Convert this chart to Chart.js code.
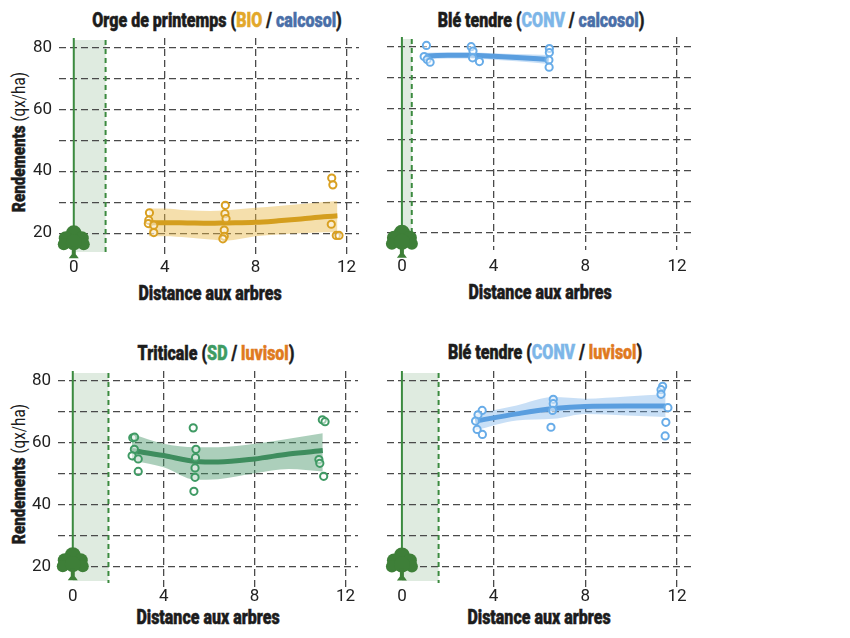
<!DOCTYPE html>
<html>
<head>
  <title>Rendements et distance aux arbres</title>
  <script src="https://cdn.jsdelivr.net/npm/chart.js"></script>
  <style>
    body { margin: 0; background: #fff; }
    #page { position: relative; width: 850px; height: 638px; overflow: hidden; font-family: Roboto, "DejaVu Sans", sans-serif; color: #1c1c1c; }
    canvas { position: absolute; }
    .lbl { position: absolute; white-space: nowrap; font-weight: 900; font-size: 20px; -webkit-text-stroke: 0.5px currentColor;
           transform: translate(-50%, -50%) scaleX(0.8); }
    .yt { font-size: 19px; transform: translate(-50%, -50%) rotate(-90deg) scaleX(0.8); }
    .yt span { font-weight: 400; -webkit-text-stroke: 0; }
  </style>
</head>
<body>
  <div id="page">
    <div class="lbl" style="left:217px;top:20px">Orge de printemps (<span style="color:#E3A82B">BIO</span> / <span style="color:#4A6FA8">calcosol</span>)</div>
    <div class="lbl" style="left:541px;top:20px">Blé tendre (<span style="color:#7DB6E8">CONV</span> / <span style="color:#4A6FA8">calcosol</span>)</div>
    <div class="lbl" style="left:216px;top:353px">Triticale (<span style="color:#3E9B63">SD</span> / <span style="color:#E07A1F">luvisol</span>)</div>
    <div class="lbl" style="left:545px;top:352px">Blé tendre (<span style="color:#7DB6E8">CONV</span> / <span style="color:#E07A1F">luvisol</span>)</div>

    <div class="lbl yt" style="left:18px;top:142px">Rendements <span>(qx/ha)</span></div>
    <div class="lbl yt" style="left:18px;top:474px">Rendements <span>(qx/ha)</span></div>

    <div class="lbl" style="left:210px;top:293px">Distance aux arbres</div>
    <div class="lbl" style="left:540px;top:292px">Distance aux arbres</div>
    <div class="lbl" style="left:208px;top:617px">Distance aux arbres</div>
    <div class="lbl" style="left:539px;top:617px">Distance aux arbres</div>
  </div>

  <script>
    // axes
    const xTicks = [0, 4, 8, 12];
    const yGrid = [20, 30, 40, 50, 60, 70, 80];
    const yLabels = [20, 40, 60, 80];

    // width of the shaded tree strip (m), per panel
    const stripEnd = [1.4, 0.43, 1.57, 1.6];

    // Orge de printemps (BIO / calcosol)
    const orgeX = [3.33, 3.3, 3.28, 3.52, 3.52, 6.67, 6.65, 6.7, 6.62, 6.62, 6.56, 11.35, 11.4, 11.33, 11.55, 11.67];
    const orgeY = [26.6, 24.2, 23.1, 22.6, 20.2, 29.0, 26.3, 24.7, 21.0, 19.0, 18.2, 37.8, 35.6, 22.9, 19.3, 19.3];
    const orgeFitX = [3.3, 4, 5, 6, 6.7, 8, 9, 10, 11, 11.6];
    const orgeFit = [23.4, 23.4, 23.3, 23.2, 23.3, 23.5, 24.0, 24.6, 25.3, 25.6];
    const orgeHi = [28.0, 28.0, 27.4, 27.2, 27.4, 28.2, 28.8, 29.4, 30.1, 30.4];
    const orgeLo = [19.0, 19.0, 18.6, 18.0, 17.6, 19.0, 19.6, 20.0, 20.3, 20.4];

    // Blé tendre (CONV / calcosol)
    const ble1X = [1.07, 0.97, 1.1, 1.23, 3.02, 3.1, 3.08, 3.38, 6.43, 6.43, 6.41, 6.42];
    const ble1Y = [80.3, 76.7, 75.8, 74.9, 79.9, 78.5, 76.3, 75.1, 79.3, 78.0, 75.6, 73.3];
    const ble1FitX = [1.0, 2, 3, 4, 5, 6.4];
    const ble1Fit = [76.9, 77.1, 77.1, 76.8, 76.4, 75.8];
    const ble1Hi = [77.9, 78.0, 78.0, 77.8, 77.5, 77.2];
    const ble1Lo = [75.8, 76.1, 76.1, 75.7, 75.2, 74.3];

    // Triticale (SD / luvisol)
    const tritX = [2.64, 2.72, 2.71, 2.61, 2.88, 2.88, 5.3, 5.42, 5.4, 5.38, 5.38, 5.33, 10.98, 11.1, 10.83, 10.87, 11.04];
    const tritY = [61.5, 61.7, 57.8, 55.7, 54.7, 50.7, 64.7, 57.8, 55.1, 51.8, 48.8, 44.3, 67.3, 66.7, 54.5, 53.3, 49.1];
    const tritFitX = [2.6, 4, 5.4, 6.4, 8, 9.5, 11];
    const tritFit = [57.4, 55.8, 53.9, 53.7, 54.7, 56.3, 57.4];
    const tritHi = [62.8, 59.6, 58.5, 58.5, 59.6, 61.2, 63.0];
    const tritLo = [54.2, 52.0, 48.0, 48.2, 50.1, 51.5, 50.7];

    // Blé tendre (CONV / luvisol)
    const ble2X = [3.5, 3.32, 3.21, 3.28, 3.51, 6.6, 6.6, 6.57, 6.5, 11.37, 11.3, 11.3, 11.6, 11.51, 11.48];
    const ble2Y = [70.3, 68.9, 66.9, 64.2, 62.6, 73.9, 72.5, 70.3, 64.9, 78.1, 77.0, 75.5, 71.2, 66.5, 62.1];
    const ble2FitX = [3.2, 5, 6.6, 8, 9.8, 11.5];
    const ble2Fit = [66.9, 69.2, 70.9, 71.6, 71.7, 71.7];
    const ble2Hi = [69.2, 71.9, 74.6, 74.1, 74.8, 75.5];
    const ble2Lo = [63.9, 67.1, 67.6, 69.2, 68.7, 68.2];

    const orange = { point: '#D9A021', line: '#D49E1E', band: 'rgba(232,184,72,0.45)' };
    const blue = { point: '#68ACE8', line: '#5A9EDF', band: 'rgba(110,170,232,0.38)' };
    const green = { point: '#3F9A64', line: '#3E8D5E', band: 'rgba(70,148,105,0.45)' };

    const pairs = (xs, ys) => xs.map((v, i) => ({ x: v, y: ys[i] }));

    function makeSets(px, py, fx, fy, hi, lo, col) {
      return [
        { data: pairs(px, py), showLine: false, pointRadius: 3.6, pointBorderWidth: 2,
          pointBorderColor: col.point, pointBackgroundColor: 'rgba(255,255,255,0.5)', order: 0 },
        { data: pairs(fx, fy), borderColor: col.line, borderWidth: 5, pointRadius: 0,
          cubicInterpolationMode: 'monotone', borderCapStyle: 'butt', order: 1 },
        { data: pairs(fx, hi), borderWidth: 0, borderColor: 'rgba(0,0,0,0)', pointRadius: 0,
          backgroundColor: col.band, fill: '+1', cubicInterpolationMode: 'monotone', order: 2 },
        { data: pairs(fx, lo), borderWidth: 0, borderColor: 'rgba(0,0,0,0)', pointRadius: 0,
          fill: false, cubicInterpolationMode: 'monotone', order: 3 }
      ];
    }

    // tree strip, green line at 0 and the little tree
    const treePlugin = {
      id: 'tree',
      beforeDraw(chart, args, opts) {
        const { ctx, chartArea, scales: { x } } = chart;
        const x0 = x.getPixelForValue(0), x1 = x.getPixelForValue(opts.strip);
        ctx.save();
        ctx.fillStyle = 'rgba(120,172,125,0.24)';
        ctx.fillRect(x0, chartArea.top + 2, x1 - x0, chartArea.bottom - chartArea.top - 8);
        ctx.restore();
      },
      afterDatasetsDraw(chart, args, opts) {
        const { ctx, chartArea, scales: { x, y } } = chart;
        const cx = x.getPixelForValue(0), x1 = x.getPixelForValue(opts.strip);
        const yb = y.getPixelForValue(opts.base);
        ctx.save();
        ctx.strokeStyle = '#3B8A3F';
        ctx.lineWidth = 2;
        ctx.setLineDash([5, 4]);
        ctx.beginPath();
        ctx.moveTo(x1, chartArea.top + 2);
        ctx.lineTo(x1, chartArea.bottom - 4);
        ctx.stroke();
        ctx.setLineDash([]);
        ctx.beginPath();
        ctx.moveTo(cx, chartArea.top);
        ctx.lineTo(cx, yb - 20);
        ctx.stroke();
        ctx.fillStyle = '#3E7F38';
        [[0, -25, 8], [-8, -20, 7], [8, -20, 7], [-10, -14, 6], [10, -14, 6], [0, -16, 8]].forEach(c => {
          ctx.beginPath();
          ctx.arc(cx + c[0], yb + c[1], c[2], 0, Math.PI * 2);
          ctx.fill();
        });
        ctx.beginPath();
        ctx.moveTo(cx - 2, yb - 12);
        ctx.lineTo(cx + 2, yb - 12);
        ctx.lineTo(cx + 2, yb - 4);
        ctx.lineTo(cx + 5, yb);
        ctx.lineTo(cx - 5, yb);
        ctx.lineTo(cx - 2, yb - 4);
        ctx.closePath();
        ctx.fill();
        ctx.restore();
      }
    };

    const tickFont = { family: 'Roboto', size: 17 };
    const noPad = s => { s.paddingTop = 0; s.paddingBottom = 0; s.paddingLeft = 0; s.paddingRight = 0; };

    const panels = [
      { left: 1, top: 30, w: 364, xMax: 12.55, yMin: 12, chartH: 220, pad: 0, yTicks: true, base: 11.9,
        sets: makeSets(orgeX, orgeY, orgeFitX, orgeFit, orgeHi, orgeLo, orange), strip: stripEnd[0] },
      { left: 329, top: 29, w: 369, xMax: 12.65, yMin: 14.5, chartH: 213, pad: 7, yTicks: false, base: 12.0,
        sets: makeSets(ble1X, ble1Y, ble1FitX, ble1Fit, ble1Hi, ble1Lo, blue), strip: stripEnd[1] },
      { left: 0, top: 363, w: 364, xMax: 12.55, yMin: 13.5, chartH: 216, pad: 0, yTicks: true, base: 15.7,
        sets: makeSets(tritX, tritY, tritFitX, tritFit, tritHi, tritLo, green), strip: stripEnd[2] },
      { left: 329, top: 363, w: 369, xMax: 12.65, yMin: 13.5, chartH: 216, pad: 0, yTicks: false, base: 15.6,
        sets: makeSets(ble2X, ble2Y, ble2FitX, ble2Fit, ble2Hi, ble2Lo, blue), strip: stripEnd[3] }
    ];

    const page = document.getElementById('page');

    panels.forEach(p => {
      const cv = document.createElement('canvas');
      cv.width = p.w;
      cv.height = 8 + p.chartH + 30;
      cv.style.left = p.left + 'px';
      cv.style.top = p.top + 'px';
      page.appendChild(cv);

      new Chart(cv.getContext('2d'), {
        type: 'line',
        data: { datasets: p.sets },
        plugins: [treePlugin],
        options: {
          responsive: false,
          animation: false,
          layout: { padding: { top: 8, right: 4, left: 0, bottom: 0 } },
          plugins: {
            legend: { display: false },
            tooltip: { enabled: false },
            tree: { strip: p.strip, base: p.base }
          },
          scales: {
            x: {
              type: 'linear',
              min: -0.65,
              max: p.xMax,
              afterBuildTicks: s => { s.ticks = xTicks.map(v => ({ value: v })); },
              afterFit: s => { s.height = 30; noPad(s); },
              ticks: { font: tickFont, color: '#222', padding: p.pad, maxRotation: 0 },
              grid: { color: c => (c.tick && c.tick.value === 0) ? 'rgba(0,0,0,0)' : '#4a4a4a',
                      lineWidth: 1.3, drawTicks: false, borderDash: [7, 4] },
              border: { display: false, dash: [7, 4] }
            },
            y: {
              min: p.yMin,
              max: 83,
              afterBuildTicks: s => { s.ticks = yGrid.map(v => ({ value: v })); },
              afterFit: s => { s.width = 58; noPad(s); },
              ticks: { display: p.yTicks, font: tickFont, color: '#222', padding: 7,
                       callback: v => yLabels.includes(v) ? v : '' },
              grid: { color: '#4a4a4a', lineWidth: 1.3, drawTicks: false, borderDash: [7, 4] },
              border: { display: false, dash: [7, 4] }
            }
          }
        }
      });
    });
  </script>
</body>
</html>
